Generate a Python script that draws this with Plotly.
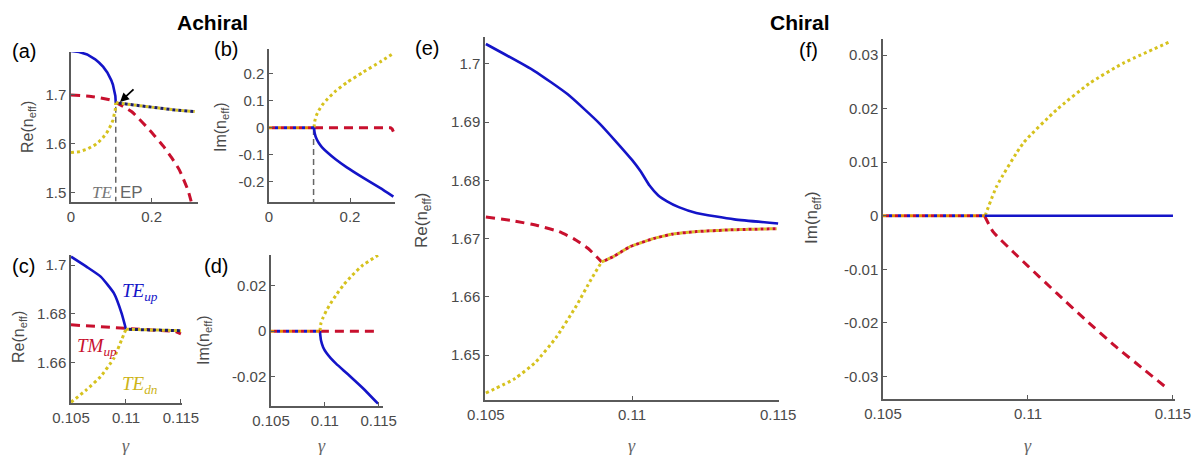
import plotly.graph_objects as go

W, H = 1202, 455
BLUE = "#1414C8"
RED = "#C8102E"
YELLOW = "#D6C21E"
AXIS = "#5a5a5a"
TXT = "#4a4a4a"
FONT = "Liberation Sans, Arial, sans-serif"
SERIF = "Liberation Serif, Times New Roman, serif"

# ---------------- data ----------------
# (a) Re(n_eff), achiral, wide gamma range
a_gamma_split = [0.0, 0.02, 0.04, 0.06, 0.07, 0.08, 0.09, 0.095, 0.10, 0.104, 0.107, 0.109, 0.110, 0.111]
a_re_te_up = [1.790, 1.788, 1.783, 1.773, 1.766, 1.7575, 1.746, 1.739, 1.730, 1.721, 1.712, 1.704, 1.698, 1.684]
a_re_te_dn = [1.582, 1.5837, 1.5889, 1.598, 1.6048, 1.6133, 1.6243, 1.6312, 1.6397, 1.6483, 1.6569, 1.6647, 1.6704, 1.684]
a_gamma_tm = [0.0, 0.05, 0.10, 0.15, 0.195, 0.23, 0.25, 0.269, 0.29, 0.298]
a_re_tm = [1.700, 1.697, 1.689, 1.666, 1.628, 1.594, 1.571, 1.546, 1.505, 1.482]
a_gamma_ep = [0.111, 0.15, 0.20, 0.25, 0.307]
a_re_ep = [1.684, 1.680, 1.675, 1.670, 1.666]
a_ep_line_gamma = [0.111, 0.111]
a_ep_line_re = [1.676, 1.482]

# (b) Im(n_eff), achiral, wide gamma range
b_gamma_pre = [0.0, 0.111]
b_im_pre = [0.0, 0.0]
b_gamma_split = [0.111, 0.113, 0.117, 0.123, 0.131, 0.145, 0.165, 0.192, 0.233, 0.274, 0.307]
b_im_te_dn = [0.0, 0.024, 0.045, 0.064, 0.083, 0.107, 0.136, 0.167, 0.206, 0.243, 0.275]
b_im_te_up = [0.0, -0.022, -0.040, -0.057, -0.073, -0.093, -0.118, -0.147, -0.186, -0.223, -0.255]
b_gamma_tm = [0.111, 0.20, 0.300, 0.304, 0.307]
b_im_tm = [0.0, 0.0, 0.0, -0.005, -0.015]
b_ep_line_gamma = [0.110, 0.110]
b_ep_line_im = [-0.005, -0.275]

# (c) Re(n_eff), achiral, zoomed
c_gamma_split = [0.105, 0.1064, 0.1077, 0.1089, 0.1096, 0.1100]
c_re_te_up = [1.7035, 1.6994, 1.6953, 1.6885, 1.6803, 1.6737]
c_re_te_dn = [1.6437, 1.6488, 1.6543, 1.6618, 1.6693, 1.6737]
c_gamma_tm = [0.105, 0.110, 0.1145, 0.1150]
c_re_tm = [1.6755, 1.6740, 1.6728, 1.6718]
c_gamma_ep = [0.1100, 0.1150]
c_re_ep = [1.6737, 1.6731]

# (d) Im(n_eff), achiral, zoomed
d_gamma_pre = [0.105, 0.10954]
d_im_pre = [0.0, 0.0]
d_gamma_split = [0.10954, 0.10964, 0.10984, 0.11014, 0.11054, 0.11104, 0.11174, 0.11254, 0.11354, 0.11494]
d_im_te_dn = [0.0, 0.0035, 0.0060, 0.0090, 0.0122, 0.0158, 0.0203, 0.0245, 0.0290, 0.0333]
d_im_te_up = [0.0, -0.0040, -0.0070, -0.0095, -0.0118, -0.0142, -0.0172, -0.0206, -0.0250, -0.0318]
d_gamma_tm = [0.10954, 0.11494]
d_im_tm = [0.0, 0.0]

# (e) Re(n_eff), chiral
e_gamma_te_up = [0.105, 0.10665, 0.10779, 0.10890, 0.1100, 0.1103, 0.1106, 0.1109, 0.1112,
                 0.1116, 0.1122, 0.1135, 0.1150]
e_re_te_up = [1.7034, 1.6988, 1.6948, 1.6897, 1.6835, 1.6815, 1.6791, 1.6774, 1.6764,
              1.6754, 1.6744, 1.6733, 1.6726]
e_gamma_tm = [0.105, 0.1060, 0.1068, 0.1075, 0.1080, 0.1085, 0.10896]
e_re_tm = [1.6737, 1.6730, 1.6722, 1.6712, 1.6700, 1.6683, 1.6660]
e_gamma_te_dn = [0.105, 0.1060, 0.1067, 0.1074, 0.1081, 0.1086, 0.10896]
e_re_te_dn = [1.6435, 1.6460, 1.6488, 1.6530, 1.6585, 1.6630, 1.6660]
e_gamma_merged = [0.10896, 0.10936, 0.10993, 0.11073, 0.11141, 0.11221, 0.11336, 0.11495]
e_re_merged = [1.6660, 1.6669, 1.6686, 1.6700, 1.6708, 1.6712, 1.6715, 1.6717]

# (f) Im(n_eff), chiral
f_gamma_pre = [0.105, 0.1085]
f_im_pre = [0.0, 0.0]
f_gamma_te_dn = [0.10852, 0.10892, 0.10984, 0.11099, 0.11214, 0.11329, 0.11490]
f_im_te_dn = [0.0, 0.0055, 0.0136, 0.0198, 0.0248, 0.0285, 0.0325]
f_gamma_te_up = [0.1085, 0.1150]
f_im_te_up = [0.0, 0.0]
f_gamma_tm = [0.1085, 0.1088, 0.1095, 0.1100, 0.1110, 0.1120, 0.1130, 0.1140, 0.1148]
f_im_tm = [0.0, -0.0030, -0.0068, -0.0094, -0.0145, -0.0195, -0.0243, -0.0287, -0.0322]

# ---------------- styles ----------------
SOLID = dict(width=2.6, dash="solid")
DASH = dict(width=3, dash="9px,6px")
DOT = dict(width=3, dash="3px,3px")
DOT_OFF = dict(width=3, dash="0px,3px,3px,0px")
DOT3_A = dict(width=3, dash="3px,6px")
DOT3_B = dict(width=3, dash="0px,3px,3px,3px")
DOT3_C = dict(width=3, dash="0px,6px,3px,0px")

fig = go.Figure()


def add(xs, ys, n, color, style, spline=False):
    fig.add_trace(go.Scatter(
        x=xs, y=ys, mode="lines", xaxis="x" if n == 1 else f"x{n}",
        yaxis="y" if n == 1 else f"y{n}",
        line=dict(color=color, width=style["width"], dash=style["dash"],
                  shape="spline" if spline else "linear", smoothing=0.5),
        hoverinfo="skip", showlegend=False))


NAVY = "#1c1c66"

# (a)
add(a_ep_line_gamma, a_ep_line_re, 1, "#666666", dict(width=1.5, dash="6px,4px"))
add(a_gamma_tm, a_re_tm, 1, RED, DASH, True)
add(a_gamma_split, a_re_te_dn, 1, YELLOW, DOT)
add(a_gamma_split, a_re_te_up, 1, BLUE, SOLID)
add(a_gamma_ep, a_re_ep, 1, YELLOW, DOT)
add(a_gamma_ep, a_re_ep, 1, NAVY, DOT_OFF)

# (b)
add(b_ep_line_gamma, b_ep_line_im, 2, "#666666", dict(width=1.5, dash="6px,4px"))
add(b_gamma_tm, b_im_tm, 2, RED, DASH)
add(b_gamma_split, b_im_te_dn, 2, YELLOW, DOT, True)
add(b_gamma_split, b_im_te_up, 2, BLUE, SOLID, True)
add(b_gamma_pre, b_im_pre, 2, "#E08A00", DOT3_A)
add(b_gamma_pre, b_im_pre, 2, RED, DOT3_B)
add(b_gamma_pre, b_im_pre, 2, BLUE, DOT3_C)

# (c)
add(c_gamma_tm, c_re_tm, 3, RED, DASH)
add(c_gamma_split, c_re_te_dn, 3, YELLOW, DOT, True)
add(c_gamma_split, c_re_te_up, 3, BLUE, SOLID, True)
add(c_gamma_ep, c_re_ep, 3, YELLOW, DOT)
add(c_gamma_ep, c_re_ep, 3, NAVY, DOT_OFF)

# (d)
add(d_gamma_tm, d_im_tm, 4, RED, DASH)
add(d_gamma_split, d_im_te_dn, 4, YELLOW, DOT, True)
add(d_gamma_split, d_im_te_up, 4, BLUE, SOLID, True)
add(d_gamma_pre, d_im_pre, 4, "#E08A00", DOT3_A)
add(d_gamma_pre, d_im_pre, 4, RED, DOT3_B)
add(d_gamma_pre, d_im_pre, 4, BLUE, DOT3_C)

# (e)
add(e_gamma_te_up, e_re_te_up, 5, BLUE, SOLID, True)
add(e_gamma_tm, e_re_tm, 5, RED, DASH, True)
add(e_gamma_te_dn, e_re_te_dn, 5, YELLOW, DOT, True)
add(e_gamma_merged, e_re_merged, 5, YELLOW, DOT, True)
add(e_gamma_merged, e_re_merged, 5, RED, DOT_OFF, True)

# (f)
add(f_gamma_te_dn, f_im_te_dn, 6, YELLOW, DOT, True)
add(f_gamma_tm, f_im_tm, 6, RED, DASH, True)
add(f_gamma_te_up, f_im_te_up, 6, BLUE, SOLID)
add(f_gamma_pre, f_im_pre, 6, "#E08A00", DOT3_A)
add(f_gamma_pre, f_im_pre, 6, RED, DOT3_B)
add(f_gamma_pre, f_im_pre, 6, BLUE, DOT3_C)

# ---------------- axes ----------------
def px_dom_x(l, r):
    return [l / W, r / W]


def px_dom_y(t, b):
    return [1 - b / H, 1 - t / H]


def ax(domain, rng, tv, tt, anchor):
    return dict(domain=domain, range=rng, tickvals=tv, ticktext=tt,
                showline=True, linecolor=AXIS, linewidth=1.5,
                ticks="inside", ticklen=4, tickwidth=1, tickcolor=AXIS,
                showgrid=False, zeroline=False, anchor=anchor, fixedrange=True,
                automargin=False,
                tickfont=dict(family=FONT, size=15, color=TXT))


gx_wide = [0, 0.2]
gx_wide_t = ["0", "0.2"]
gx_zoom = [0.105, 0.11, 0.115]
gx_zoom_t = ["0.105", "0.11", "0.115"]

layout_axes = dict(
    xaxis=ax(px_dom_x(71, 198), [0, 0.315], gx_wide, gx_wide_t, "y"),
    yaxis=ax(px_dom_y(52, 202), [1.4807, 1.788], [1.5, 1.6, 1.7], ["1.5", "1.6", "1.7"], "x"),
    xaxis2=ax(px_dom_x(269, 395), [0, 0.311], gx_wide, gx_wide_t, "y2"),
    yaxis2=ax(px_dom_y(49, 202), [-0.275, 0.291], [-0.2, -0.1, 0, 0.1, 0.2],
              ["-0.2", "-0.1", "0", "0.1", "0.2"], "x2"),
    xaxis3=ax(px_dom_x(71, 182), [0.105, 0.1151], gx_zoom, gx_zoom_t, "y3"),
    yaxis3=ax(px_dom_y(255, 403), [1.6434, 1.7042], [1.66, 1.68, 1.7], ["1.66", "1.68", "1.7"], "x3"),
    xaxis4=ax(px_dom_x(271, 383), [0.105, 0.1154], gx_zoom, gx_zoom_t, "y4"),
    yaxis4=ax(px_dom_y(255, 406), [-0.0328, 0.0334], [-0.02, 0, 0.02], ["-0.02", "0", "0.02"], "x4"),
    xaxis5=ax(px_dom_x(485, 779), [0.10497, 0.11503], gx_zoom, gx_zoom_t, "y5"),
    yaxis5=ax(px_dom_y(37, 400), [1.6423, 1.7046], [1.65, 1.66, 1.67, 1.68, 1.69, 1.7],
              ["1.65", "1.66", "1.67", "1.68", "1.69", "1.7"], "x5"),
    xaxis6=ax(px_dom_x(883, 1175), [0.105, 0.11507], gx_zoom, gx_zoom_t, "y6"),
    yaxis6=ax(px_dom_y(39, 399), [-0.0342, 0.0330], [-0.03, -0.02, -0.01, 0, 0.01, 0.02, 0.03],
              ["-0.03", "-0.02", "-0.01", "0", "0.01", "0.02", "0.03"], "x6"),
)

# ---------------- annotations ----------------
ann = []


def txt(x, y, text, size, color="black", family=FONT, angle=0):
    ann.append(dict(x=x / W, y=1 - y / H, xref="paper", yref="paper", text=text,
                    showarrow=False, textangle=angle, xanchor="center", yanchor="middle",
                    font=dict(family=family, size=size, color=color)))


txt(212, 22, "<b>Achiral</b>", 21)
txt(800, 22, "<b>Chiral</b>", 21)
for x, y, lab in [(24, 51, "(a)"), (226, 49, "(b)"), (23, 266, "(c)"), (216, 266, "(d)"),
                  (427, 48, "(e)"), (808, 50, "(f)")]:
    txt(x, y, lab, 20)

re_t = "Re(n<sub>eff</sub>)"
im_t = "Im(n<sub>eff</sub>)"
txt(28, 127, re_t, 16, TXT, angle=-90)
txt(221, 127, im_t, 16, TXT, angle=-90)
txt(19, 337, re_t, 16, TXT, angle=-90)
txt(204, 340, im_t, 16, TXT, angle=-90)
txt(423, 220, re_t, 17, TXT, angle=-90)
txt(813, 218, im_t, 17, TXT, angle=-90)

for x in [126, 322, 632, 1028]:
    txt(x, 446, "<i>γ</i>", 18, "#666666", SERIF)

txt(102, 192, "<i>TE</i>", 17, "#777777", SERIF)
txt(131, 192, "EP", 17, "#666666")

txt(140, 292, "<i>TE<sub>up</sub></i>", 19, BLUE, SERIF)
txt(97, 347, "<i>TM<sub>up</sub></i>", 19, RED, SERIF)
txt(140, 385, "<i>TE<sub>dn</sub></i>", 19, "#CDB418", SERIF)

ann.append(dict(x=120 / W, y=1 - 102 / H, xref="paper", yref="paper", ax=15, ay=-14,
                showarrow=True, arrowhead=2, arrowsize=1, arrowwidth=1.8,
                arrowcolor="black", text=""))

fig.update_layout(
    template="none",
    width=W, height=H, margin=dict(l=0, r=0, t=0, b=0, autoexpand=False),
    paper_bgcolor="white", plot_bgcolor="white",
    showlegend=False, annotations=ann, **layout_axes)

fig.write_html("out.html")
